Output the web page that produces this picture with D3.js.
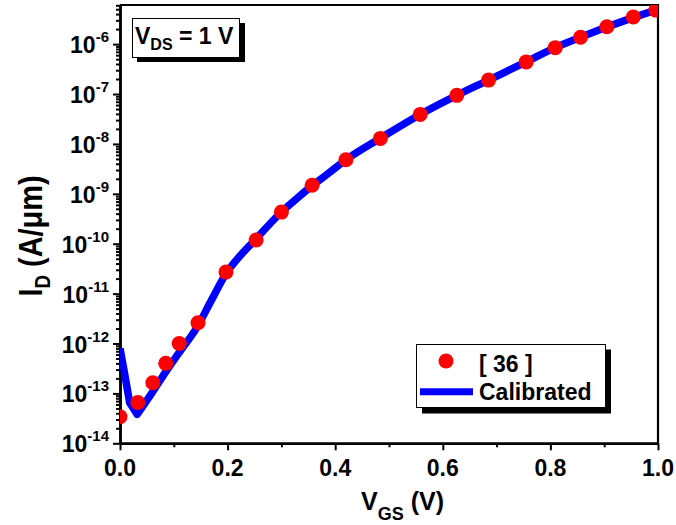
<!DOCTYPE html>
<html>
<head>
<meta charset="utf-8">
<script src="https://cdn.jsdelivr.net/npm/d3@7"></script>
<style>
  body { margin: 0; background: #fff; }
  text { font-family: "Liberation Sans", Arial, sans-serif; font-weight: bold; fill: #000; }
</style>
</head>
<body>
<svg id="chart" width="676" height="525"></svg>
<script>
// Reference transfer data [36]: gate voltage (V) and drain current (A/um)
const refVgs = [0, 0.033, 0.061, 0.085, 0.110, 0.145, 0.197, 0.253, 0.300, 0.357, 0.420,
                0.484, 0.558, 0.626, 0.685, 0.755, 0.809, 0.856, 0.905, 0.954, 0.996];
const refId  = [3.4e-14, 6.6e-14, 1.64e-13, 4.0e-13, 1.0e-12, 2.6e-12, 2.7e-11, 1.19e-10, 4.3e-10, 1.48e-9, 4.8e-9,
                1.29e-8, 3.9e-8, 9.4e-8, 1.9e-7, 4.4e-7, 8.5e-7, 1.37e-6, 2.23e-6, 3.5e-6, 4.8e-6];

// Calibrated simulation curve
const calVgs = [0, 0.008, 0.018, 0.032, 0.06, 0.085, 0.11, 0.143, 0.17, 0.197, 0.225, 0.253, 0.28,
                0.30, 0.33, 0.357, 0.39, 0.42, 0.484, 0.558, 0.626, 0.685, 0.755, 0.809, 0.856,
                0.905, 0.954, 1.0];
const calId  = [8e-13, 2.7e-13, 6.5e-14, 3.8e-14, 1.05e-13, 2.7e-13, 6.6e-13, 2.1e-12, 7.4e-12, 2.5e-11, 6e-11, 1.25e-10, 2.6e-10,
                4.3e-10, 8.3e-10, 1.45e-9, 2.7e-9, 4.8e-9, 1.3e-8, 3.9e-8, 9.4e-8, 1.9e-7, 4.4e-7, 8.5e-7, 1.37e-6,
                2.2e-6, 3.4e-6, 5.0e-6];

// Axis ticks
const xMajorTicks = [0, 0.2, 0.4, 0.6, 0.8, 1.0];
const xMinorTicks = [0.1, 0.3, 0.5, 0.7, 0.9];
const yDecades = [-14, -13, -12, -11, -10, -9, -8, -7, -6];

const legendLabels = ["[ 36 ]", "Calibrated"];

const svg = d3.select("#chart");
const L = 120, R = 658, T = 5, B = 443.3;
const yTop = 6.08e-6;

const x = d3.scaleLinear().domain([0, 1]).range([L, R]);
const y = d3.scaleLog().domain([1e-14, yTop]).range([B, T]);

const yMajor = yDecades.map(d => Math.pow(10, d));
const yMinor = [];
yDecades.forEach(d => { for (let m = 2; m <= 9; m++) { const v = m * Math.pow(10, d); if (v <= yTop) yMinor.push(v); } });

// clip for data marks
svg.append("defs").append("clipPath").attr("id", "plotClip")
  .append("rect").attr("x", L).attr("y", T).attr("width", R - L).attr("height", B - T);

// Axes
function styleAxis(g, w) {
  g.selectAll("path.domain").attr("stroke", "#000").attr("stroke-width", w);
  g.selectAll(".tick line").attr("stroke", "#000").attr("stroke-width", 2);
  g.selectAll(".tick text").remove();
}
svg.append("g").attr("transform", `translate(${L},0)`)
  .call(d3.axisLeft(y).tickValues(yMinor).tickSize(4).tickSizeOuter(0).tickFormat(""))
  .call(g => styleAxis(g, 2.5));
svg.append("g").attr("transform", `translate(${L},0)`)
  .call(d3.axisLeft(y).tickValues(yMajor).tickSize(7).tickSizeOuter(0).tickFormat(""))
  .call(g => styleAxis(g, 2.5));
svg.append("g").attr("transform", `translate(0,${B})`)
  .call(d3.axisBottom(x).tickValues(xMinorTicks).tickSize(4).tickSizeOuter(0).tickFormat(""))
  .call(g => styleAxis(g, 2.5));
svg.append("g").attr("transform", `translate(0,${B})`)
  .call(d3.axisBottom(x).tickValues(xMajorTicks).tickSize(7).tickSizeOuter(0).tickFormat(""))
  .call(g => styleAxis(g, 2.5));

// top and right frame
svg.append("path").attr("d", `M${L},${T}H${R}V${B}`).attr("fill", "none")
  .attr("stroke", "#000").attr("stroke-width", 2.2);

// Y tick labels 10^n
yDecades.forEach(d => {
  const t = svg.append("text").attr("x", 109).attr("y", y(Math.pow(10, d)) + 9)
    .attr("text-anchor", "end").style("font-size", "23px");
  t.append("tspan").text("10");
  t.append("tspan").attr("dy", -11).style("font-size", "15px").text(String(d));
});

// X tick labels
const fmt = d3.format(".1f");
xMajorTicks.forEach(v => {
  svg.append("text").attr("x", x(v)).attr("y", 476).attr("text-anchor", "middle")
    .style("font-size", "23px").text(fmt(v));
});

// Axis titles
const xt = svg.append("text").attr("x", 361).attr("y", 510).style("font-size", "25px");
xt.append("tspan").text("V");
xt.append("tspan").attr("dy", 10).style("font-size", "18px").text("GS");
xt.append("tspan").attr("dy", -10).text(" (V)");

const yt = svg.append("text").attr("transform", "translate(42,236) rotate(-90) scale(0.85,1)")
  .attr("text-anchor", "middle").style("font-size", "34px");
yt.append("tspan").text("I");
yt.append("tspan").attr("dy", 8).style("font-size", "22px").text("D");
yt.append("tspan").attr("dy", -8).text(" (A/\u03BCm)");

// Data
const plot = svg.append("g").attr("clip-path", "url(#plotClip)");
const calData = calVgs.map((v, i) => ({ v, i: calId[i] }));
// straight V around the current minimum, smooth curve above it
const iMin = d3.minIndex(calData, d => d.i);
const linSeg = d3.line().x(d => x(d.v)).y(d => y(d.i))(calData.slice(0, iMin + 1));
const smoothSeg = d3.line().x(d => x(d.v)).y(d => y(d.i)).curve(d3.curveMonotoneX)(calData.slice(iMin));
plot.append("path").attr("d", linSeg + smoothSeg.replace(/^M/, "L"))
  .attr("fill", "none").attr("stroke", "#0000ff").attr("stroke-width", 7.5)
  .attr("stroke-linejoin", "round");

const refData = refVgs.map((v, i) => ({ v, i: refId[i] }));
plot.selectAll("circle").data(refData).enter().append("circle")
  .attr("cx", d => x(d.v)).attr("cy", d => y(d.i)).attr("r", 7.5).attr("fill", "#ff0000");

// V_DS annotation box with shadow
svg.append("rect").attr("x", 137).attr("y", 23).attr("width", 108).attr("height", 39).attr("fill", "#000");
svg.append("rect").attr("x", 132.5).attr("y", 18.5).attr("width", 107).attr("height", 39)
  .attr("fill", "#fff").attr("stroke", "#000").attr("stroke-width", 1);
const ann = svg.append("text").attr("x", 135).attr("y", 44).style("font-size", "23px");
ann.append("tspan").text("V");
ann.append("tspan").attr("dy", 6).style("font-size", "16px").text("DS");
ann.append("tspan").attr("dy", -6).text(" = 1 V");

// Legend with shadow
svg.append("rect").attr("x", 422).attr("y", 349.5).attr("width", 189).attr("height", 64).attr("fill", "#000");
svg.append("rect").attr("x", 416.5).attr("y", 344.5).attr("width", 189).attr("height", 63)
  .attr("fill", "#fff").attr("stroke", "#000").attr("stroke-width", 1);
svg.append("circle").attr("cx", 446).attr("cy", 361).attr("r", 7.5).attr("fill", "#ff0000");
svg.append("line").attr("x1", 420).attr("x2", 473).attr("y1", 391.7).attr("y2", 391.7)
  .attr("stroke", "#0000ff").attr("stroke-width", 7);
svg.append("text").attr("x", 479).attr("y", 371.5).style("font-size", "23px").text(legendLabels[0]);
svg.append("text").attr("x", 479).attr("y", 399.5).style("font-size", "23px").text(legendLabels[1]);
</script>
</body>
</html>
